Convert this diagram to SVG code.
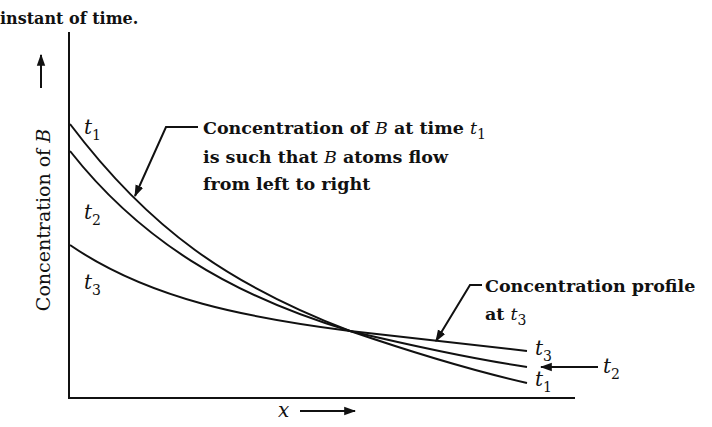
<svg xmlns="http://www.w3.org/2000/svg" width="712" height="427" viewBox="0 0 712 427">
<style>
text{font-family:"DejaVu Serif","Liberation Serif",serif;font-size:17px;fill:#111}
.b{font-weight:bold;font-size:17.5px}
.i{font-style:italic;font-weight:normal}
.t{font-size:20px}
.s{font-size:14px;font-style:normal;font-weight:normal}
.l{fill:none;stroke:#111;stroke-width:2}
</style>
<defs><marker id="a" viewBox="0 0 10 10" refX="9" refY="5" markerWidth="6" markerHeight="6" orient="auto" markerUnits="strokeWidth"><path d="M0,1.5L10,5L0,8.5z" fill="#111"/></marker></defs>
<rect width="712" height="427" fill="#fff"/>
<text x="0" y="24" style="font-weight:bold;font-size:16px">instant of time.</text>
<g id="axes">
<path class="l" d="M69,32V398H575"/>
</g>
<g id="curves">
<path class="l" d="M70,124C150,230 230,285 350,331C420,355 470,370 527,383"/>
<path class="l" d="M70,151C140,240 230,295 350,331C430,350 480,360 527,367"/>
<path class="l" d="M70,245C150,300 250,318 350,331C430,340 480,346 527,351"/>
</g>
<g id="labels">
<text class="i t" x="84" y="134">t<tspan class="s" dy="6">1</tspan></text>
<text class="i t" x="84" y="219">t<tspan class="s" dy="6">2</tspan></text>
<text class="i t" x="84" y="289">t<tspan class="s" dy="6">3</tspan></text>
<text class="i t" x="535" y="355">t<tspan class="s" dy="6">3</tspan></text>
<text class="i t" x="603" y="373">t<tspan class="s" dy="6">2</tspan></text>
<text class="i t" x="535" y="386">t<tspan class="s" dy="6">1</tspan></text>
<text transform="translate(50,220) rotate(-90)" text-anchor="middle" style="font-size:19px">Concentration of <tspan class="i">B</tspan></text>
<text x="278" y="417" class="i t">x</text>
</g>
<g id="callout1">
<text class="b" x="203" y="134">Concentration of <tspan class="i">B</tspan> at time <tspan class="i">t</tspan><tspan class="s" dy="5">1</tspan></text>
<text class="b" x="203" y="163">is such that <tspan class="i">B</tspan> atoms flow</text>
<text class="b" x="203" y="190">from left to right</text>
</g>
<g id="callout2">
<text class="b" x="485" y="292">Concentration profile</text>
<text class="b" x="485" y="320">at <tspan class="i">t</tspan><tspan class="s" dy="5">3</tspan></text>
</g>
<g id="connectors">
<path class="l" d="M198,127H166L135,196" marker-end="url(#a)"/>
<path class="l" d="M482,285H470L436,341" marker-end="url(#a)"/>
<path class="l" d="M598,367H541" marker-end="url(#a)"/>
<path class="l" d="M41,88V55" marker-end="url(#a)"/>
<path class="l" d="M300,411H355" marker-end="url(#a)"/>
</g>
</svg>
